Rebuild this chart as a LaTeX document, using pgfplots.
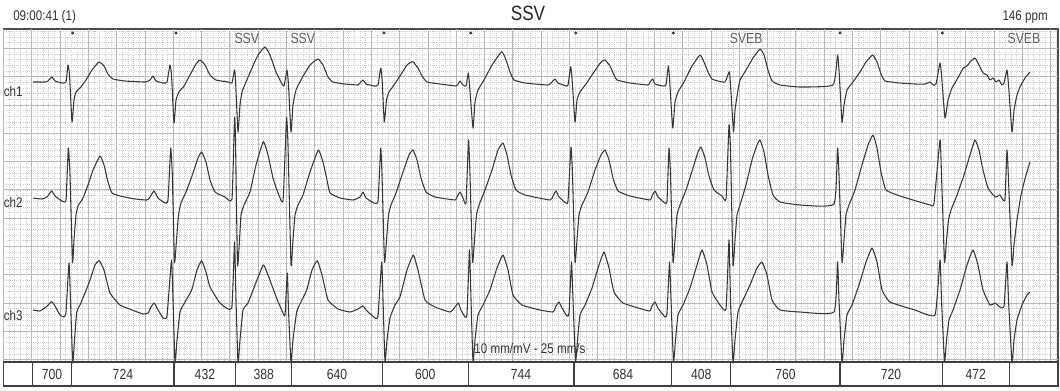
\documentclass[border=0pt]{standalone}
\usepackage{fontspec}
\setmainfont{Liberation Sans}[FakeStretch=0.83]
\usepackage{pgfplots}
\pgfplotsset{compat=1.18}
\newcommand{\fs}[1]{\fontsize{#1}{#1}\selectfont}
\begin{document}
\begin{tikzpicture}
\begin{axis}[
  scale only axis, width=790.95pt, height=249.75pt,
  xmin=3.4, xmax=1058, ymin=29, ymax=362, y dir=reverse,
  clip=false,
  axis line style={draw=black!70, line width=1.1pt},
  xtick={3.4,9.06,...,1058}, ytick={31.32,36.98,...,362},
  extra x ticks={3.4,31.7,...,1058}, extra y ticks={48.3,76.6,...,362},
  grid=major,
  major grid style={gray!40, dash pattern=on 0.45pt off 1.15pt, line width=0.4pt},
  extra tick style={grid=major, major grid style={solid, gray!55, line width=0.5pt}},
  xticklabels={}, yticklabels={}, extra x tick labels={}, extra y tick labels={},
  tick style={draw=none},
  ecg/.style={black!78, line width=0.8pt, line join=round, mark=none, smooth, tension=0.25},
]
\coordinate (bbA) at (axis cs:0,0);
\coordinate (bbB) at (axis cs:1060,390);

% ---- ch1 ----
\addplot[ecg] coordinates {
(33,82) (45,82) (48,81) (52,77) (55,81) (62,83) (66,82) (68,65) (69.5,75) (72,122) (74,100) (76,92) (80,88) (86,80) (92,70) (99,62) (104,66) (108,74) (113,79) (125,81) (145,82)
(150,80) (153,76) (156,81) (163,83) (167,82) (170,65) (171.5,75) (174,123) (176,100) (179,92) (184,86) (190,75) (196,64) (200,60) (205,65) (210,75) (216,80) (228,82) (232,83)
(234.5,70) (235.5,80) (238,132) (240,105) (242,92) (246,82) (252,68) (258,55) (265,47) (270,55) (276,72) (281,82) (284,86)
(287,70) (288.5,85) (291,132) (293,105) (296,90) (302,78) (310,65) (318,59) (323,65) (328,77) (333,82) (345,84) (358,85)
(360,83) (363,80) (366,84) (374,86) (378,85) (380.7,68) (382,78) (384.3,122) (386.5,100) (389,92) (394,85) (400,76) (407,65) (412.7,61.7) (418,68) (422,76) (427,82) (440,84) (456,86)
(458,84) (460,81) (463,85) (466,86) (468.3,73) (469.5,85) (473,128) (475,102) (478,90) (484,80) (492,65) (501.7,51.7) (506,60) (510,72) (514,80) (525,83) (548,85)
(552,82) (555,79) (558,83) (566,86) (568,85) (570.7,66.7) (572,78) (575,122) (577,100) (580,92) (586,84) (594,72) (601,62) (605,60) (610,66) (614,75) (617,80) (630,83) (648,85)
(650,82) (652.7,79) (655,84) (663,86) (666,85) (668.3,66) (669.5,78) (672.7,128) (675,102) (678,92) (684,82) (692,66) (700,55) (704,62) (708,72) (712,79) (718,81) (725,82)
(729.3,71.7) (730.5,85) (733.5,132) (735,110) (738,90) (740,80) (746,70) (753,58) (760,49) (764,55) (768,70) (772,81) (780,85) (800,87) (833,85)
(837.5,55) (839,70) (842,122) (844,105) (847,90) (853,82) (860,72) (866,62) (872.7,55) (877,62) (881,74) (885,81) (900,83) (915,84) (925,84) (930,82) (933,85) (936,84)
(940,63) (941.5,75) (945,118) (948,100) (952,88) (956.7,80) (960,74) (963.3,68) (967,66) (970,62) (975,58) (979,65) (983,73) (987,75) (990,80) (993,78) (996,82) (999,80) (1002,85) (1004,83)
(1007,70) (1008.5,85) (1012,132) (1014,110) (1017,95) (1020,87) (1025,78) (1030,72)
};
% ---- ch2 ----
\addplot[ecg] coordinates {
(33,198) (42,199) (47,197) (51.7,191) (55,196) (62,201) (66,200) (68.3,148) (70,175) (72.5,262) (74,240) (76,215) (78,206) (83,198) (88,185) (93,170) (100,156) (104,165) (108,182) (112,193) (120,196) (135,199) (147,200)
(150,197) (154,191) (158,198) (165,203) (168,200) (170.7,148) (172.3,175) (174.5,262) (176.5,240) (178.5,215) (181,203) (186,192) (192,176) (198,158) (201.7,152) (206,162) (210,180) (215,192) (225,197) (232,199)
(234.5,118) (235.5,140) (237.5,265) (239.5,240) (241,215) (244,205) (250,192) (256,165) (263.3,141.7) (268,155) (273,178) (277,190) (283,201)
(286.5,118) (288,145) (291,265) (293,240) (295,215) (298,205) (303,195) (310,172) (318.3,150) (323,162) (327,180) (330,193) (340,198) (353,200)
(360,197) (363,192) (366,198) (374,203) (378,201) (380.7,148) (382,175) (384.5,262) (386.5,240) (388.5,215) (391,205) (396,193) (403,172) (409,155) (413,150) (417,160) (421,178) (426,192) (435,197) (455,200)
(457,197) (460,192) (463,198) (466,203) (468.5,140) (470,175) (472.5,262) (474.5,240) (476.5,215) (479,205) (485,190) (492,170) (498,150) (503,143) (507,155) (511,175) (516,190) (525,195) (550,200)
(553,196) (556,191) (559,197) (566,203) (568,201) (571,147) (572.5,175) (575,262) (577,240) (579,215) (582,205) (588,192) (595,170) (601,155) (605,150) (609,160) (613,178) (618,191) (630,196) (650,200)
(652,196) (655,191) (658,197) (665,203) (667,201) (669,148) (670.5,175) (673,262) (675,240) (677,215) (680,205) (686,190) (693,168) (698,152) (701,147) (705,158) (709,176) (714,190) (722,196) (726,199)
(729,125) (730.5,150) (733,265) (735,240) (737,215) (740,205) (746,185) (752,160) (757,145) (760,140) (764,152) (768,175) (773,195) (780,202) (800,205) (834,204)
(837.5,148) (839,175) (842,262) (844,240) (846,215) (849,205) (855,190) (862,165) (868,145) (873,135) (877,148) (881,172) (886,190) (900,196) (930,205) (934,203)
(940,140) (941.5,175) (944.5,262) (946.5,240) (948.5,220) (951,210) (957,195) (964,175) (970,155) (975,140) (979,150) (983,170) (988,188) (995,197) (1000,195) (1003,200) (1005,199)
(1007,150) (1008.5,180) (1012,265) (1014,245) (1017,220) (1021,195) (1026,175) (1030,162)
};
% ---- ch3 ----
\addplot[ecg] coordinates {
(33,310) (40,311) (46,307) (51.7,301.7) (55,306) (60,315) (64,317) (66,312) (69,263) (70.5,300) (72.7,363) (74.5,340) (76.7,312) (80,305) (85,293) (90,280) (95,265) (99.3,260.7) (104,270) (110,293) (120,305) (132,310) (143,314) (148,313)
(151,307) (154,303) (157,308) (163,318) (167,316) (171.5,260) (173,300) (175,363) (177,340) (180,312) (185,302) (191.7,290) (197,270) (201.7,260.7) (206,272) (210,287) (220,303) (231.7,308.3)
(234.5,242) (236,300) (238,363) (240,340) (243,310) (248,303) (255,285) (263.3,265) (268,275) (276.7,298.3) (283,313) (285,315)
(287.3,273) (288.5,310) (291,363) (293,340) (296.7,311.7) (301,302) (306.7,290) (312,270) (317.3,260.7) (322,275) (328,300) (338,309) (350,312)
(358,309) (363,306) (367,311) (375,318) (378,316) (381.7,262) (383,300) (385,362) (387,340) (390,318) (395,305) (400,296.7) (407,270) (413.3,255) (418,270) (425,300) (435,307) (450,312)
(455,307) (458.3,303) (461,310) (465,317) (467,314) (469.5,250) (471,300) (473,362) (475,340) (478,315) (483,305) (490,290) (497,268) (503,255) (508,270) (513,295) (522,305) (540,310) (553,312)
(556,306) (559,302) (562,308) (567,316) (569,313) (571.5,262) (573,300) (575.5,362) (577.5,340) (580,315) (585,305) (592,288) (599,265) (604,252) (609,268) (614,292) (623,303) (645,310) (650,311)
(652,306) (655,302) (658,308) (665,317) (667,313) (669.5,262) (671,300) (673.5,362) (675.5,340) (678,315) (683,305) (690,288) (697,265) (702,250) (707,265) (712,292) (720,305) (726,309)
(729,240) (730.5,300) (733,363) (735,340) (738,312) (743,300) (750,285) (757,268) (762,262) (767,275) (772,300) (780,310) (800,312) (834,312)
(837.5,262) (839,300) (842,363) (844,340) (847,315) (852,305) (859,285) (866,262) (872,248) (877,262) (882,290) (890,302) (915,310) (935,315)
(940,260) (941.5,300) (944.5,362) (946.5,340) (949,320) (953,310) (960,290) (967,265) (973,250) (978,265) (983,290) (990,305) (995,303) (1000,307) (1004,306)
(1007,262) (1008.5,300) (1012,363) (1014,340) (1017,320) (1022,305) (1027,295) (1030,292)
};
% beat markers
\addplot[only marks, mark=*, mark size=0.9pt, black!80] coordinates {(72.7,33) (176,33) (384,33) (470.7,33) (575.7,33) (673.3,33) (840,33) (942.3,33)};

% bottom interval row
\draw[black!75, line width=1.1pt] (axis cs:3.4,362) rectangle (axis cs:1058,386);
\pgfplotsinvokeforeach{32.3,71.7,174,235.7,291.7,382.3,468.3,574,671.7,730.7,840,942.3,1009.3}{
  \draw[black!75, line width=1.1pt] (axis cs:#1,362) -- (axis cs:#1,386);
}
\begin{scope}[every node/.style={font=\fs{11pt}, text=black!80, inner sep=0pt}]
\node at (axis cs:52,374) {700};
\node at (axis cs:122.9,374) {724};
\node at (axis cs:204.9,374) {432};
\node at (axis cs:263.7,374) {388};
\node at (axis cs:337,374) {640};
\node at (axis cs:425.3,374) {600};
\node at (axis cs:521,374) {744};
\node at (axis cs:622.9,374) {684};
\node at (axis cs:701.2,374) {408};
\node at (axis cs:785.4,374) {760};
\node at (axis cs:891,374) {720};
\node at (axis cs:975.8,374) {472};
\end{scope}

% texts
\node[font=\fs{10.5pt}, text=black!80, anchor=west, inner sep=0pt] at (axis cs:13,17) {09:00:41 (1)};
\node[font=\fs{15.5pt}, text=black!85, inner sep=0pt] at (axis cs:528,13) {SSV};
\node[font=\fs{10.5pt}, text=black!80, anchor=east, inner sep=0pt] at (axis cs:1048,17.5) {146 ppm};
\begin{scope}[every node/.style={font=\fs{11pt}, text=black!62, inner sep=0pt}]
\node at (axis cs:246.7,38.3) {SSV};
\node at (axis cs:302.7,38.3) {SSV};
\node at (axis cs:746.2,38.3) {SVEB};
\node at (axis cs:1023.9,38.3) {SVEB};
\end{scope}
\begin{scope}[every node/.style={font=\fs{10.5pt}, text=black!80, inner sep=0pt, anchor=west}]
\node at (axis cs:3.6,91) {ch1};
\node at (axis cs:3.6,202) {ch2};
\node at (axis cs:3.6,315) {ch3};
\end{scope}
\node[font=\fs{10.5pt}, text=black!80, inner sep=0pt] at (axis cs:530,348) {10 mm/mV - 25 mm/s};
\end{axis}
\pgfresetboundingbox
\path (bbA) rectangle (bbB);
\end{tikzpicture}
\end{document}
